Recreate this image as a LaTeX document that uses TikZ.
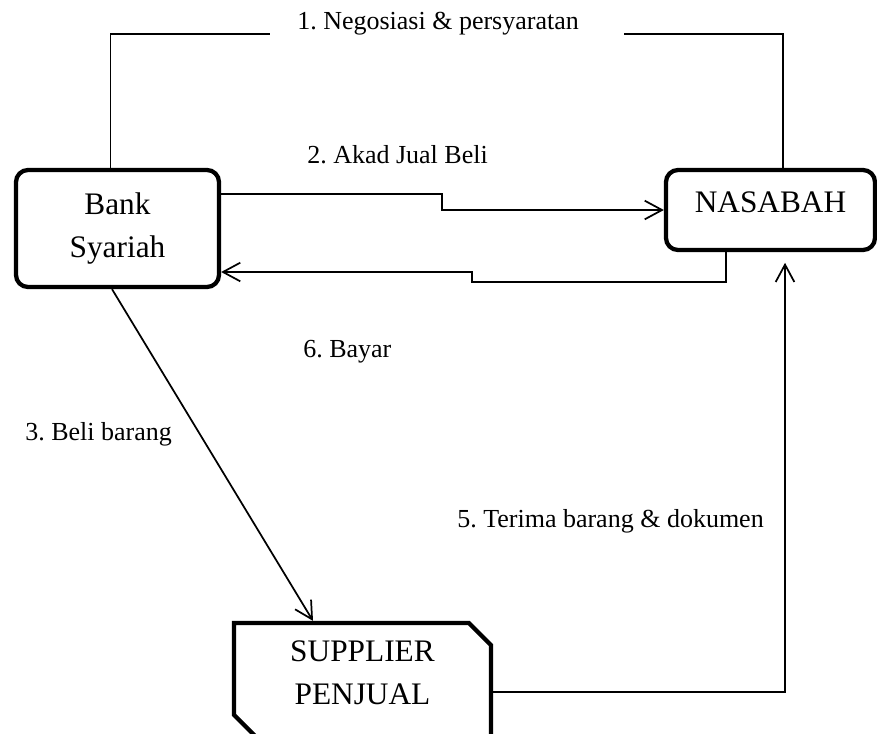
\documentclass[tikz,border=0pt]{standalone}
\usepackage{fontspec}
\setmainfont{Liberation Serif}
\usetikzlibrary{arrows.meta,positioning,shapes.misc}
\frenchspacing

\begin{document}
\begin{tikzpicture} [x=0.75pt,y=-0.75pt,>={Straight Barb[length=13pt,width=14pt]},
  party/.style={draw,line width=3.2pt,rounded corners=9pt,align=center,font=\fontsize{23.5}{32.25}\selectfont},
  seller/.style={draw,line width=3.2pt,chamfered rectangle,chamfered rectangle corners={north east,south west},
    chamfered rectangle xsep=13.5pt,align=center,font=\fontsize{23.5}{32.25}\selectfont},
  flow/.style={->,line width=1.3pt},
  link/.style={line width=0.9pt},
  tag/.style={inner sep=0pt,anchor=base west,font=\fontsize{19.5}{24}\selectfont}]
  \useasboundingbox (0,0) rectangle (877,733);
  \clip (0,0) rectangle (877,733);

  \node[party,minimum width=152.25pt,minimum height=87.75pt] (bank) at (117.5,228.5) {Bank\\Syariah};
  \node[party,minimum width=156.75pt,minimum height=60pt,text depth=11.25pt] (nas) at (770.5,210) {NASABAH};
  \node[seller,minimum width=192.75pt,minimum height=85.5pt,text depth=10.5pt] (sup) at (362.5,680) {SUPPLIER\\PENJUAL};

  \node[tag] (neg) at (297,29) {1. Negosiasi \& persyaratan};
  \node[tag] (akad) at (307,163) {2. Akad Jual Beli};
  \node[tag] (beli) at (25,440) {3. Beli barang};
  \node[tag] (terima) at (457,527) {5. Terima barang \& dokumen};
  \node[tag] (bayar) at (303,357) {6. Bayar};

  \coordinate (n1) at (270,34);
  \coordinate (n2) at (624,34);

  \draw[link] (bank.north) ++(-7,0) |- (n1);
  \draw[link] (n2) -| ([shift={(12.5,0)}]nas.north);
  \draw[flow] ([shift={(0,-34.5)}]bank.east) -- ++(221,0) |- (nas.west);
  \draw[flow] ([shift={(-44.5,0)}]nas.south) |- (472,282) |- ([shift={(0,43.5)}]bank.east);
  \draw[flow] ([shift={(-5.5,0)}]bank.south) -- ([shift={(-49.5,0)}]sup.north);
  \draw[flow,shorten >=8pt] ([shift={(0,12)}]sup.east) -| ([shift={(14.5,0)}]nas.south);
\end{tikzpicture}
\end{document}
